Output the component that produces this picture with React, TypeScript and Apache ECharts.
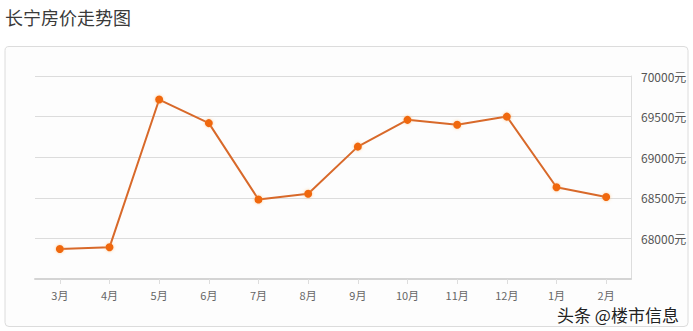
import React, { useEffect, useRef } from "react";
import * as echarts from "echarts";

const categories = ["3月", "4月", "5月", "6月", "7月", "8月", "9月", "10月", "11月", "12月", "1月", "2月"];
const prices = [67870, 67890, 69710, 69420, 68480, 68550, 69130, 69460, 69400, 69500, 68630, 68510];
const titleText = "长宁房价走势图";
const watermarkText = "头条 @楼市信息";

const FONT = '"Noto Sans CJK SC", "Noto Sans", sans-serif';

export default function App() {
  const ref = useRef<HTMLDivElement>(null);
  useEffect(() => {
    document.body.style.margin = "0";
    if (!ref.current) return;
    const chart = echarts.init(ref.current, null, { renderer: "svg" });
    chart.setOption({
      animation: false,
      backgroundColor: "#ffffff",
      textStyle: { fontFamily: FONT },
      title: {
        text: titleText,
        left: 5,
        top: 8,
        padding: 0,
        textStyle: { fontSize: 18, fontWeight: "normal", color: "#3a3a3a", fontFamily: FONT },
      },
      graphic: [
        {
          type: "rect",
          shape: { x: 5, y: 46.5, width: 683, height: 280, r: 4 },
          style: { fill: "#fdfdfd", stroke: "#dcdcdc", lineWidth: 1 },
          z: -10,
        },
        {
          type: "text",
          x: 557,
          y: 314,
          style: {
            text: watermarkText,
            fontSize: 17,
            lineHeight: 17,
            verticalAlign: "middle",
            fontFamily: FONT,
            fill: "#222",
            stroke: "#fff",
            lineWidth: 2,
          },
          z: 100,
        },
      ],
      grid: { left: 35, right: 62, top: 76, bottom: 52 },
      xAxis: {
        type: "category",
        data: categories,
        boundaryGap: true,
        axisLine: { show: true, lineStyle: { color: "#d4d4d4", width: 2 } },
        axisTick: { show: true, alignWithLabel: true, length: 5, lineStyle: { color: "#ddd" } },
        axisLabel: { color: "#666", fontSize: 11, lineHeight: 12, margin: 10, fontFamily: FONT },
        splitLine: { show: false },
      },
      yAxis: {
        type: "value",
        position: "right",
        min: 67500,
        max: 70000,
        interval: 500,
        axisLine: { show: true, lineStyle: { color: "#ddd" } },
        axisTick: { show: false },
        axisLabel: {
          color: "#555",
          fontSize: 12,
          margin: 10,
          fontFamily: FONT,
          formatter: (v: number) => (v === 67500 ? "" : v + "元"),
        },
        splitLine: { show: true, lineStyle: { color: "#dcdcdc" } },
      },
      series: [
        {
          type: "line",
          data: prices,
          symbol: "circle",
          symbolSize: 8,
          lineStyle: { color: "#d8692a", width: 2 },
          itemStyle: {
            color: "#f0670f",
            shadowBlur: 3,
            shadowColor: "rgba(255,170,80,0.6)",
          },
        },
      ],
    });
    return () => chart.dispose();
  }, []);
  return <div ref={ref} style={{ width: 693, height: 331 }} />;
}
